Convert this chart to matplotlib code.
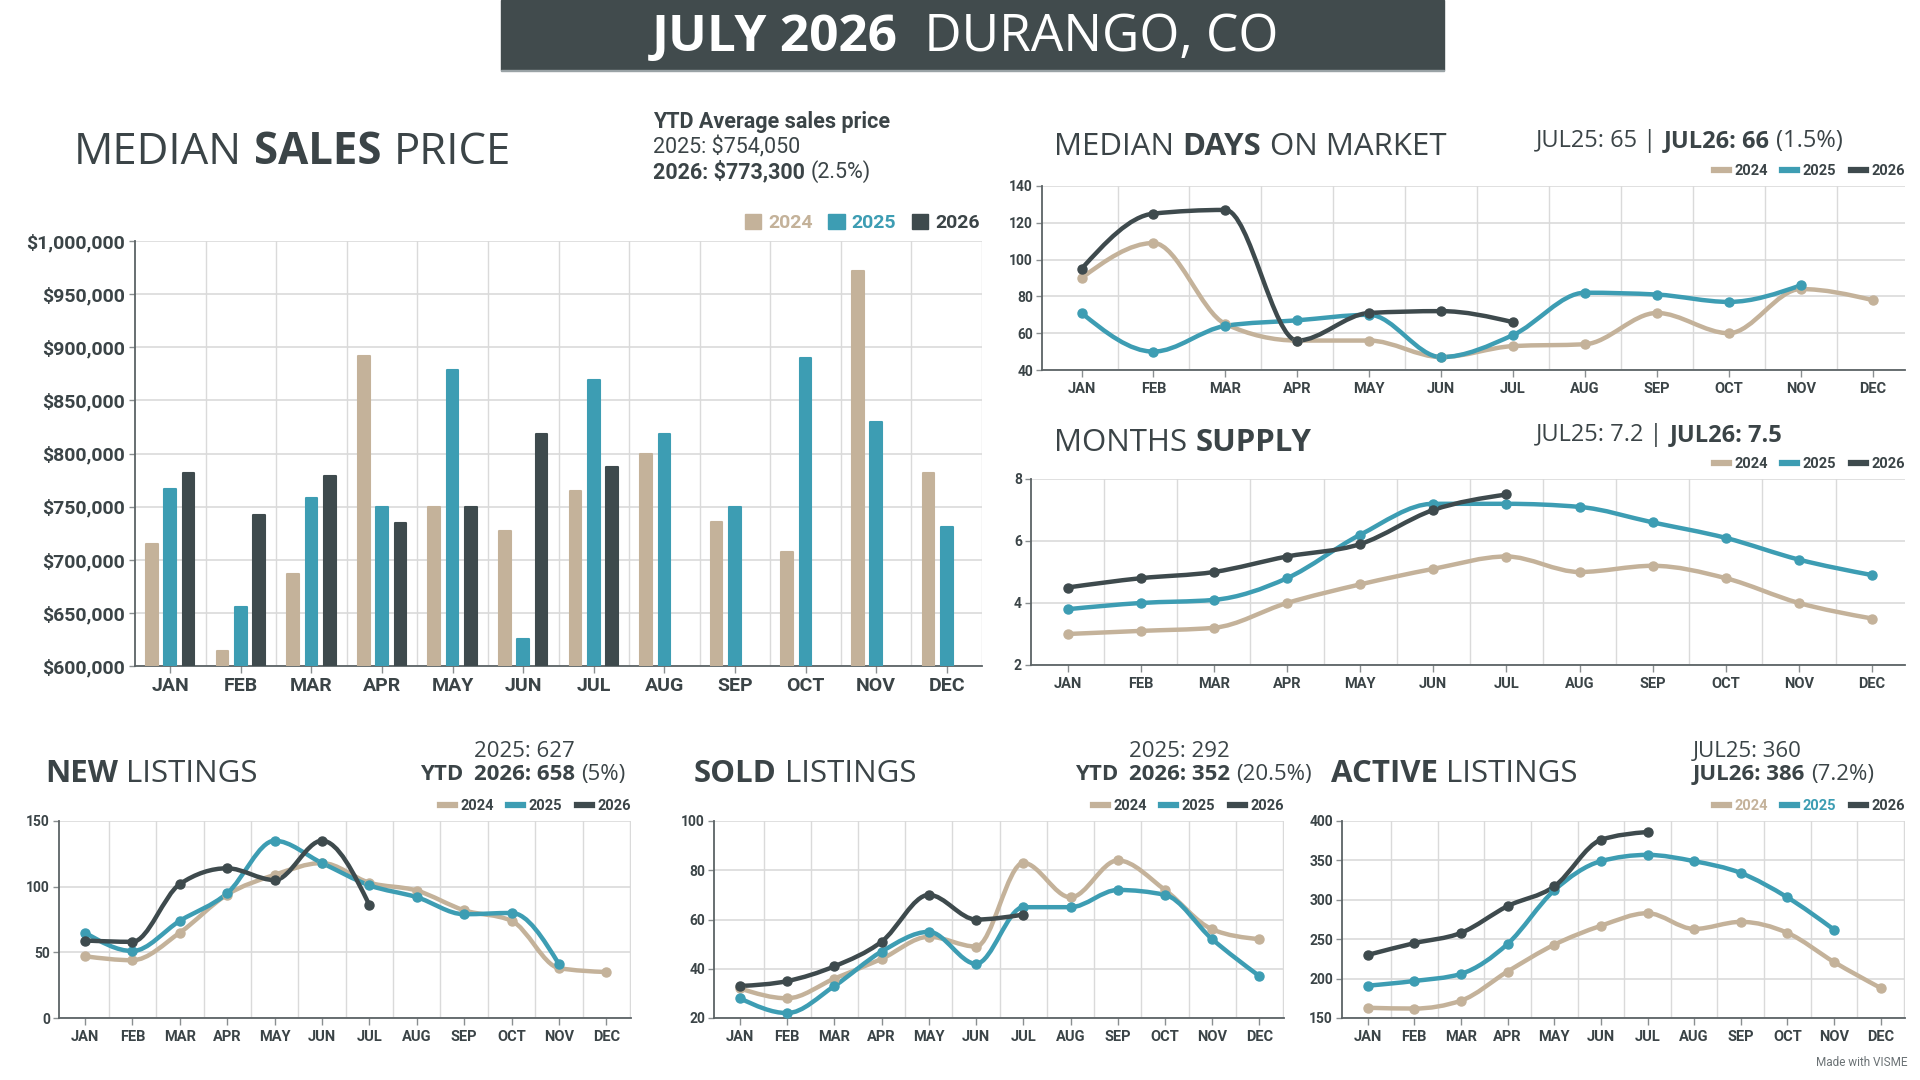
import matplotlib
matplotlib.use('Agg')
import matplotlib.pyplot as plt
from matplotlib.path import Path
from matplotlib.patches import PathPatch, Patch, Rectangle
from matplotlib.lines import Line2D
from matplotlib.ticker import FuncFormatter

# ---------------- data ----------------
months = ['JAN', 'FEB', 'MAR', 'APR', 'MAY', 'JUN', 'JUL', 'AUG', 'SEP', 'OCT', 'NOV', 'DEC']
years = ['2024', '2025', '2026']

price_2024 = [715000, 614000, 687000, 892000, 750000, 727000, 765000, 800000, 736000, 707000, 972000, 782000]
price_2025 = [767000, 656000, 758000, 750000, 879000, 625000, 869000, 818000, 750000, 890000, 830000, 731000]
price_2026 = [782000, 742000, 779000, 735000, 750000, 818000, 787000]

dom_2024 = [90, 109, 65, 56, 56, 47, 53, 54, 71, 60, 84, 78]
dom_2025 = [71, 50, 64, 67, 70, 47, 59, 82, 81, 77, 86]
dom_2026 = [95, 125, 127, 56, 71, 72, 66]

ms_2024 = [3.0, 3.1, 3.2, 4.0, 4.6, 5.1, 5.5, 5.0, 5.2, 4.8, 4.0, 3.5]
ms_2025 = [3.8, 4.0, 4.1, 4.8, 6.2, 7.2, 7.2, 7.1, 6.6, 6.1, 5.4, 4.9]
ms_2026 = [4.5, 4.8, 5.0, 5.5, 5.9, 7.0, 7.5]

new_2024 = [47, 44, 65, 94, 109, 118, 103, 97, 82, 74, 38, 35]
new_2025 = [65, 51, 74, 95, 135, 118, 101, 92, 79, 80, 41]
new_2026 = [59, 58, 102, 114, 105, 135, 86]

sold_2024 = [32, 28, 36, 44, 53, 49, 83, 69, 84, 72, 56, 52]
sold_2025 = [28, 22, 33, 47, 55, 42, 65, 65, 72, 70, 52, 37]
sold_2026 = [33, 35, 41, 51, 70, 60, 62]

act_2024 = [163, 162, 172, 209, 243, 267, 283, 263, 272, 258, 221, 188]
act_2025 = [191, 197, 206, 244, 312, 349, 357, 349, 334, 303, 262]
act_2026 = [230, 245, 258, 292, 317, 376, 386]

# ---------------- style ----------------
C24 = '#c4b29a'
C25 = '#3d9db3'
C26 = '#3e4a4d'
HEAD = '#414b4d'
TXT = '#3b4447'
GRID = '#dadada'
SPINE = '#5c6366'
COLORS = [C24, C25, C26]
TFONT = ['Open Sans', 'Roboto', 'DejaVu Sans']

plt.rcParams['font.family'] = ['Roboto', 'DejaVu Sans']

W, H = 1920, 1080
fig = plt.figure(figsize=(19.2, 10.8), dpi=100)
fig.patch.set_facecolor('white')
renderer = fig.canvas.get_renderer()


def ax_at(l, t, r, b):
    return fig.add_axes([l / W, 1 - b / H, (r - l) / W, (b - t) / H])


def rich(x, yb, parts, size, align='left', family=None):
    em = size * 100 / 72
    items = []
    cur = 0
    for i, p in enumerate(parts):
        s, w = p[0], p[1]
        col = p[2] if len(p) > 2 else TXT
        if i > 0:
            cur += 0.27 * em
        kw = {'family': family} if family else {}
        t = fig.text(0, 0, s, fontsize=size, fontweight=w, color=col,
                     va='baseline', ha='left', **kw)
        wpx = t.get_window_extent(renderer).width
        items.append((t, cur))
        cur += wpx
    if align == 'center':
        x0 = x - cur / 2
    elif align == 'right':
        x0 = x - cur
    else:
        x0 = x
    for t, off in items:
        t.set_position(((x0 + off) / W, 1 - yb / H))


def _sign(v):
    return (v > 0) - (v < 0)


def monotone_path(vals):
    # monotone cubic through the data points, expressed as Bezier segments in data space
    xs = list(range(len(vals)))
    ys = list(vals)
    n = len(xs)
    t = [0.0] * n
    for i in range(1, n - 1):
        h0 = xs[i] - xs[i - 1]
        h1 = xs[i + 1] - xs[i]
        s0 = (ys[i] - ys[i - 1]) / h0
        s1 = (ys[i + 1] - ys[i]) / h1
        p = (s0 * h1 + s1 * h0) / (h0 + h1)
        t[i] = (_sign(s0) + _sign(s1)) * min(abs(s0), abs(s1), 0.5 * abs(p))
    if n > 2:
        h = xs[1] - xs[0]
        t[0] = (3 * (ys[1] - ys[0]) / h - t[1]) / 2
        h = xs[-1] - xs[-2]
        t[-1] = (3 * (ys[-1] - ys[-2]) / h - t[-2]) / 2
    verts = [(xs[0], ys[0])]
    codes = [Path.MOVETO]
    for i in range(n - 1):
        dx = (xs[i + 1] - xs[i]) / 3.0
        verts += [(xs[i] + dx, ys[i] + dx * t[i]),
                  (xs[i + 1] - dx, ys[i + 1] - dx * t[i + 1]),
                  (xs[i + 1], ys[i + 1])]
        codes += [Path.CURVE4] * 3
    return Path(verts, codes)


def style_axes(ax, xlim, ylim, yticks, xsize, ysize, xpad, ypad, fmt=None):
    ax.set_xlim(*xlim)
    ax.set_ylim(*ylim)
    ax.set_xticks(range(12))
    ax.set_xticklabels(months)
    ax.set_yticks(yticks)
    if fmt:
        ax.yaxis.set_major_formatter(FuncFormatter(fmt))
    for k in range(12):
        ax.axvline(k + 0.5, color=GRID, lw=1, zorder=0)
    for v in yticks:
        ax.axhline(v, color=GRID, lw=1.2, zorder=0)
    for s in ['top', 'right']:
        ax.spines[s].set_visible(False)
    for s in ['left', 'bottom']:
        ax.spines[s].set_color(SPINE)
        ax.spines[s].set_linewidth(1.3)
    ax.tick_params(axis='x', length=5, width=1, color='#8a8f91', pad=xpad,
                   labelsize=xsize, labelcolor=TXT)
    ax.tick_params(axis='y', length=4, width=1, color='#8a8f91', pad=ypad,
                   labelsize=ysize, labelcolor=TXT)
    for lab in ax.get_xticklabels() + ax.get_yticklabels():
        lab.set_fontweight('bold')
    ax.set_facecolor('none')


def line_chart(ax, series, xlim, ylim, yticks, legend_colored=False):
    for vals, col in zip(series, COLORS):
        ax.add_patch(PathPatch(monotone_path(vals), fill=False, edgecolor=col, lw=3.2,
                               capstyle='round', joinstyle='round', zorder=3))
        ax.plot(range(len(vals)), vals, 'o', color=col, ms=6.5, zorder=4)
    style_axes(ax, xlim, ylim, yticks, 10.5, 10, 3.5, 2.5)
    handles = [Line2D([], [], color=c, lw=4.5) for c in COLORS]
    h_px = ax.get_position().height * H
    leg = ax.legend(handles, years, ncol=3, loc='center right',
                    bbox_to_anchor=(1.0, 1 + 15 / h_px), frameon=False,
                    handlelength=1.0, handletextpad=0.4, columnspacing=1.0,
                    borderaxespad=0, borderpad=0,
                    prop={'weight': 'bold', 'size': 10.5})
    for tx, c in zip(leg.get_texts(), COLORS):
        tx.set_color(c if (legend_colored and c != C26) else TXT)


# ---------------- header ----------------
fig.add_artist(Rectangle((501 / W, 1 - 70 / H), (1444 - 501) / W, 70 / H,
                         transform=fig.transFigure, color=HEAD, zorder=0))
fig.add_artist(Rectangle((501 / W, 1 - 71 / H), (1444 - 501) / W, 1.5 / H,
                         transform=fig.transFigure, color='#9aa3a6', zorder=0))
rich(965, 51, [('JULY 2026', 'bold', 'white'), (' DURANGO, CO', 'normal', 'white')], 37,
     align='center', family=TFONT)

# ---------------- median sales price ----------------
rich(74, 164, [('MEDIAN', 'normal'), ('SALES', 'bold'), ('PRICE', 'normal')], 31.5, family=TFONT)
rich(653, 128, [('YTD Average sales price', 'bold')], 15.5)
rich(653, 153, [('2025: $754,050', 'normal')], 15.5)
rich(653, 178, [('2026: $773,300', 'bold'), ('(2.5%)', 'normal')], 15.5)

axb = ax_at(135, 241, 982, 666)
bw = 0.165
off = 0.26
for i, (vals, col) in enumerate(zip([price_2024, price_2025, price_2026], COLORS)):
    xs = [k + (i - 1) * off for k in range(len(vals))]
    axb.bar(xs, vals, width=bw, color=col, edgecolor=col, linewidth=1.5,
            joinstyle='round', zorder=3)
style_axes(axb, (-0.5, 11.5), (600000, 1000000), list(range(600000, 1000001, 50000)),
           14, 14, 3.0, 3, fmt=lambda v, p: '${:,.0f}'.format(v))
bh = [Patch(facecolor=c, edgecolor=c, joinstyle='round') for c in COLORS]
legb = axb.legend(bh, years, ncol=3, loc='center right',
                  bbox_to_anchor=(0.997, 1 + 18 / 425), frameon=False,
                  handlelength=0.85, handleheight=0.85, handletextpad=0.35,
                  columnspacing=0.8, borderaxespad=0, borderpad=0,
                  prop={'weight': 'bold', 'size': 14})
for tx, c in zip(legb.get_texts(), COLORS):
    tx.set_color(c if c != C26 else TXT)

# ---------------- median days on market ----------------
rich(1054, 155, [('MEDIAN', 'normal'), ('DAYS', 'bold'), ('ON MARKET', 'normal')], 22.5, family=TFONT)
rich(1536, 147, [('JUL25: 65 |', 'normal'), ('JUL26: 66', 'bold'), ('(1.5%)', 'normal')], 17, family=TFONT)
axd = ax_at(1042, 186, 1905, 370)
line_chart(axd, [dom_2024, dom_2025, dom_2026], (-0.55, 11.45), (40, 140), [40, 60, 80, 100, 120, 140])

# ---------------- months supply ----------------
rich(1054, 451, [('MONTHS', 'normal'), ('SUPPLY', 'bold')], 22.5, family=TFONT)
rich(1536, 441, [('JUL25: 7.2 |', 'normal'), ('JUL26: 7.5', 'bold')], 17, family=TFONT)
axm = ax_at(1031, 479, 1905, 665)
line_chart(axm, [ms_2024, ms_2025, ms_2026], (-0.5, 11.45), (2, 8), [2, 4, 6, 8])

# ---------------- new listings ----------------
rich(45, 782, [('NEW', 'bold'), ('LISTINGS', 'normal')], 22.5, family=TFONT)
rich(474, 757, [('2025: 627', 'normal')], 16, family=TFONT)
rich(420, 780, [('YTD', 'bold')], 16, family=TFONT)
rich(474, 780, [('2026: 658', 'bold'), ('(5%)', 'normal')], 16, family=TFONT)
axn = ax_at(59, 821, 631, 1018)
line_chart(axn, [new_2024, new_2025, new_2026], (-0.55, 11.52), (0, 150), [0, 50, 100, 150])

# ---------------- sold listings ----------------
rich(694, 782, [('SOLD', 'bold'), ('LISTINGS', 'normal')], 22.5, family=TFONT)
rich(1129, 757, [('2025: 292', 'normal')], 16, family=TFONT)
rich(1075, 780, [('YTD', 'bold')], 16, family=TFONT)
rich(1129, 780, [('2026: 352', 'bold'), ('(20.5%)', 'normal')], 16, family=TFONT)
axs = ax_at(714, 821, 1284, 1018)
line_chart(axs, [sold_2024, sold_2025, sold_2026], (-0.55, 11.52), (20, 100), [20, 40, 60, 80, 100])

# ---------------- active listings ----------------
rich(1331, 782, [('ACTIVE', 'bold'), ('LISTINGS', 'normal')], 22.5, family=TFONT)
rich(1693, 757, [('JUL25: 360', 'normal')], 16, family=TFONT)
rich(1693, 780, [('JUL26: 386', 'bold'), ('(7.2%)', 'normal')], 16, family=TFONT)
axa = ax_at(1342, 821, 1905, 1018)
line_chart(axa, [act_2024, act_2025, act_2026], (-0.55, 11.52), (150, 400),
           [150, 200, 250, 300, 350, 400], legend_colored=True)

fig.text(1908 / W, 1 - 1063 / H, 'Made with VISME', fontsize=8.5, color='#6b7275',
         ha='right', va='center')

fig.savefig('out.png', dpi=100, facecolor='white')
